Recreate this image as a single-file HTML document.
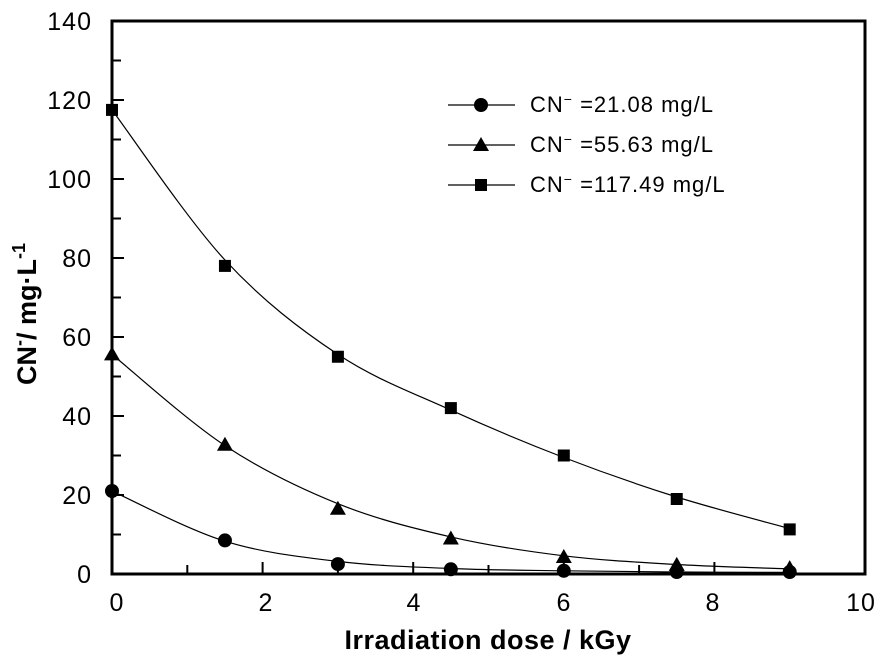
<!DOCTYPE html>
<html><head><meta charset="utf-8"><style>
body{margin:0;background:#fff}
svg{display:block;font-family:"Liberation Sans","DejaVu Sans",sans-serif}
</style></head><body>
<svg width="887" height="659" viewBox="0 0 887 659" xmlns="http://www.w3.org/2000/svg">
<rect x="0" y="0" width="887" height="659" fill="#fff"/>
<g stroke="#000" stroke-width="3" fill="none">
<rect x="112" y="21" width="753" height="553"/>
</g>
<g stroke="#000" stroke-width="2">
<line x1="187.3" y1="574" x2="187.3" y2="565"/>
<line x1="262.6" y1="574" x2="262.6" y2="562"/>
<line x1="337.9" y1="574" x2="337.9" y2="565"/>
<line x1="413.2" y1="574" x2="413.2" y2="562"/>
<line x1="488.5" y1="574" x2="488.5" y2="565"/>
<line x1="563.8" y1="574" x2="563.8" y2="562"/>
<line x1="639.1" y1="574" x2="639.1" y2="565"/>
<line x1="714.4" y1="574" x2="714.4" y2="562"/>
<line x1="789.7" y1="574" x2="789.7" y2="565"/>
<line x1="112" y1="534.5" x2="121" y2="534.5"/>
<line x1="112" y1="495" x2="124" y2="495"/>
<line x1="112" y1="455.5" x2="121" y2="455.5"/>
<line x1="112" y1="416" x2="124" y2="416"/>
<line x1="112" y1="376.5" x2="121" y2="376.5"/>
<line x1="112" y1="337" x2="124" y2="337"/>
<line x1="112" y1="297.5" x2="121" y2="297.5"/>
<line x1="112" y1="258" x2="124" y2="258"/>
<line x1="112" y1="218.5" x2="121" y2="218.5"/>
<line x1="112" y1="179" x2="124" y2="179"/>
<line x1="112" y1="139.5" x2="121" y2="139.5"/>
<line x1="112" y1="100" x2="124" y2="100"/>
<line x1="112" y1="60.5" x2="121" y2="60.5"/>
</g>
<g font-size="25" text-anchor="end" fill="#000" letter-spacing="1">
<text x="92" y="583">0</text>
<text x="92" y="504">20</text>
<text x="92" y="425">40</text>
<text x="92" y="346">60</text>
<text x="92" y="267">80</text>
<text x="92" y="188">100</text>
<text x="92" y="109">120</text>
<text x="92" y="30">140</text>
</g>
<g font-size="25" text-anchor="middle" fill="#000" letter-spacing="1">
<text x="117" y="611">0</text>
<text x="266" y="611">2</text>
<text x="414" y="611">4</text>
<text x="564" y="611">6</text>
<text x="713" y="611">8</text>
<text x="861" y="611">10</text>
</g>
<text x="488" y="649" font-size="27" font-weight="bold" text-anchor="middle" letter-spacing="0.5">Irradiation dose / kGy</text>
<text transform="translate(36,314) rotate(-90)" font-size="27" font-weight="bold" text-anchor="middle">CN<tspan font-size="18" dy="-11">-</tspan><tspan dy="11">/ mg·L</tspan><tspan font-size="18" dy="-11">-1</tspan></text>
<g fill="none" stroke="#000" stroke-width="1.2">
<path d="M112,109.9 C130.8,134.9 187.3,219.25 224.95,260 C262.6,300.75 300.25,329.4 337.9,354.4 C375.55,379.4 413.2,392.9 450.85,410.1 C488.5,427.3 526.15,443 563.8,457.5 C601.45,472 639.1,485.15 676.75,497 C714.4,508.85 770.9,523.3 789.7,528.6"/>
<path d="M112,354.4 C130.8,369.6 187.3,420.7 224.95,445.6 C262.6,470.5 300.25,488.5 337.9,503.7 C375.55,518.9 413.2,528.2 450.85,536.9 C488.5,545.6 526.15,551.2 563.8,555.8 C601.45,560.4 639.1,562.3 676.75,564.5 C714.4,566.7 770.9,568.2 789.7,568.9"/>
<path d="M112,491.05 C130.8,499.4 187.3,529.5 224.95,541.2 C262.6,552.9 300.25,556.85 337.9,561.4 C375.55,565.95 413.2,566.9 450.85,568.5 C488.5,570.1 526.15,570.2 563.8,570.8 C601.45,571.4 639.1,571.7 676.75,572 C714.4,572.3 770.9,572.3 789.7,572.4"/>
</g>
<g fill="#000">
<rect x="106" y="103.9" width="12" height="12"/>
<rect x="218.95" y="259.9" width="12" height="12"/>
<rect x="331.9" y="350.75" width="12" height="12"/>
<rect x="444.85" y="402.1" width="12" height="12"/>
<rect x="557.8" y="449.5" width="12" height="12"/>
<rect x="670.75" y="493" width="12" height="12"/>
<rect x="783.7" y="523.4" width="12" height="12"/>
<polygon points="112,346.4 120,360.4 104,360.4"/>
<polygon points="224.95,436.8 232.95,450.8 216.95,450.8"/>
<polygon points="337.9,500.8 345.9,514.8 329.9,514.8"/>
<polygon points="450.85,530.5 458.85,544.5 442.85,544.5"/>
<polygon points="563.8,549 571.8,563 555.8,563"/>
<polygon points="676.75,556.9 684.75,570.9 668.75,570.9"/>
<polygon points="789.7,560.1 797.7,574.1 781.7,574.1"/>
<circle cx="112" cy="491" r="7"/>
<circle cx="224.95" cy="540.4" r="7"/>
<circle cx="337.9" cy="564.1" r="7"/>
<circle cx="450.85" cy="569.3" r="7"/>
<circle cx="563.8" cy="570.8" r="7"/>
<circle cx="676.75" cy="572" r="7"/>
<circle cx="789.7" cy="572" r="7"/>
</g>
<g stroke="#000" stroke-width="1.2">
<line x1="448" y1="105" x2="515" y2="105"/>
<line x1="448" y1="145" x2="515" y2="145"/>
<line x1="448" y1="185" x2="515" y2="185"/>
</g>
<circle cx="481" cy="105" r="7" fill="#000"/>
<polygon points="481,137 489,151 473,151" fill="#000"/>
<rect x="475" y="179" width="12" height="12" fill="#000"/>
<g font-size="22" fill="#000" letter-spacing="1">
<text x="530" y="112">CN<tspan font-size="14" dy="-8">−</tspan><tspan dy="8"> =21.08 mg/L</tspan></text>
<text x="530" y="152">CN<tspan font-size="14" dy="-8">−</tspan><tspan dy="8"> =55.63 mg/L</tspan></text>
<text x="530" y="192">CN<tspan font-size="14" dy="-8">−</tspan><tspan dy="8"> =117.49 mg/L</tspan></text>
</g>
</svg>
</body></html>
